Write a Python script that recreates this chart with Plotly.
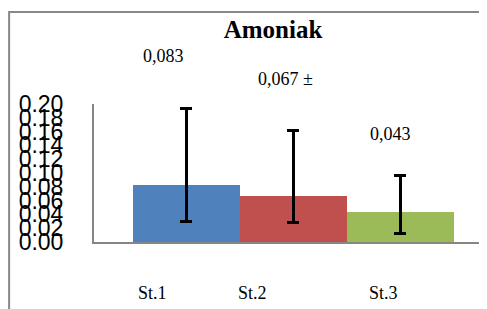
import plotly.graph_objects as go

categories = ["St.1", "St.2", "St.3"]
values = [0.083, 0.067, 0.043]
err_plus = [0.111, 0.094, 0.054]
err_minus = [0.054, 0.039, 0.031]
value_labels = ["0,083", "0,067 ±", "0,043"]
colors = ["#4F81BD", "#C0504D", "#9BBB59"]
yticks = [round(i * 0.02, 2) for i in range(11)]

# styling offsets (pixels)
cat_xshift = [-34, -41, -17]
val_xshift = [-23, -8, -10]
val_yshift = [129, 117, 78]

fig = go.Figure()
fig.add_trace(go.Bar(
    x=categories, y=values, width=1.0,
    marker=dict(color=colors, line=dict(width=0)),
    error_y=dict(type="data", symmetric=False, array=err_plus, arrayminus=err_minus,
                 color="black", thickness=3, width=6),
    showlegend=False,
))

ann = []
for c, xs in zip(categories, cat_xshift):
    ann.append(dict(x=c, y=0, xref="x", yref="y", text=c, showarrow=False,
                    xshift=xs, yshift=-51, yanchor="middle",
                    font=dict(family="Liberation Serif", size=18, color="black")))
for c, v, t, xs, ys in zip(categories, values, value_labels, val_xshift, val_yshift):
    ann.append(dict(x=c, y=v, xref="x", yref="y", text=t, showarrow=False,
                    xshift=xs, yshift=ys, yanchor="middle",
                    font=dict(family="Liberation Serif", size=18, color="black")))

fig.update_layout(
    width=479, height=301,
    margin=dict(l=86, r=0, t=96, b=67),
    paper_bgcolor="white", plot_bgcolor="white",
    title=dict(text="<b>Amoniak</b>", x=265/479, xanchor="center", y=1-21/301, yanchor="middle",
               font=dict(family="Liberation Serif", size=25, color="black")),
    annotations=ann,
    bargap=0,
    shapes=[dict(type="path", xref="paper", yref="paper",
                 path="M -0.216,-0.5 L -0.216,1.667 L 1.0,1.667",
                 line=dict(color="#888888", width=2), layer="below")],
    xaxis=dict(range=[-0.86, 2.81], showticklabels=False, showgrid=False, zeroline=False,
               showline=True, linecolor="#868686", linewidth=2, ticks=""),
    yaxis=dict(range=[0, 0.2], tickvals=yticks, tickformat=".2f", showgrid=False, zeroline=False,
               showline=True, linecolor="#868686", linewidth=2, ticks="",
               ticklabelstandoff=24,
               tickfont=dict(family="Liberation Sans", size=23, color="black")),
)

fig.write_html("out.html")
